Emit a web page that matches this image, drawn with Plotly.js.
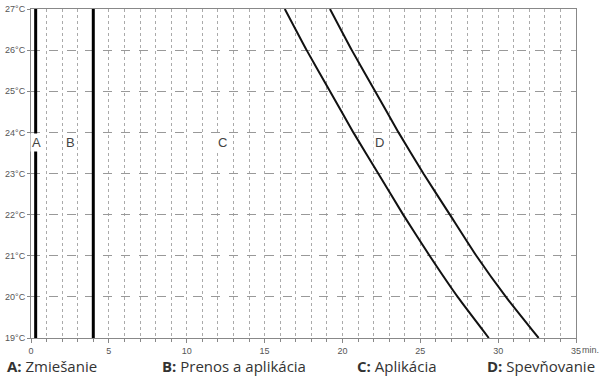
<!DOCTYPE html>
<html>
<head>
<meta charset="utf-8">
<script src="https://cdn.plot.ly/plotly-3.0.1.min.js"></script>
<style>
  html, body { margin: 0; padding: 0; background: #fff; }
  #plot { width: 602px; height: 382px; }
</style>
</head>
<body>
<div id="plot"></div>
<script>
// Temperatures (°C) and the minutes where the two curves cross them
const temps = [27, 26, 25, 24, 23, 22, 21, 20, 19];
const curveEarly = [16.3, 17.7, 19.2, 20.7, 22.3, 23.9, 25.6, 27.4, 29.4];
const curveLate = [19.2, 20.6, 22.1, 23.6, 25.2, 26.9, 28.6, 30.5, 32.6];

// Phase boundaries (vertical lines)
const phaseMarks = [0.3, 4];

// Phase letters inside the plot
const phaseLetters = ['A', 'B', 'C', 'D'];
const phaseLetterX = [0.37, 2.55, 12.3, 22.4];
const phaseLetterY = 23.75;

// Legend under the chart
const legendKeys = ['A:', 'B:', 'C:', 'D:'];
const legendNames = ['Zmiešanie', 'Prenos a aplikácia', 'Aplikácia', 'Spevňovanie'];
const legendPx = [5, 160, 355, 485];

const xTicks = [0, 5, 10, 15, 20, 25, 30, 35];
const yTicks = [19, 20, 21, 22, 23, 24, 25, 26, 27];

const margin = { l: 31, r: 26, t: 9, b: 44 };
const plotW = 602 - margin.l - margin.r;

const data = [];
phaseMarks.forEach(m => {
    data.push({
        type: 'scatter', mode: 'lines',
        x: [m, m], y: [19, 27],
        line: { color: '#000', width: 3 },
        hoverinfo: 'skip'
    });
});
[curveEarly, curveLate].forEach(c => {
    data.push({
        type: 'scatter', mode: 'lines',
        x: c, y: temps,
        line: { color: '#111', width: 2, shape: 'spline', smoothing: 0.4 },
        hoverinfo: 'skip'
    });
});

const annotations = [];
phaseLetters.forEach((t, i) => {
    annotations.push({
        x: phaseLetterX[i], y: phaseLetterY, xref: 'x', yref: 'y',
        text: t, showarrow: false,
        font: { family: 'Liberation Sans, Arial, sans-serif', size: 13, color: '#444' },
        bgcolor: '#fff', borderpad: 1
    });
});
annotations.push({
    x: 35, y: 19, xref: 'x', yref: 'y', text: 'min.', showarrow: false,
    xanchor: 'left', yanchor: 'top', xshift: 4, yshift: -5,
    font: { family: 'Liberation Sans, Arial, sans-serif', size: 9, color: '#555' }
});
legendKeys.forEach((k, i) => {
    annotations.push({
        x: (legendPx[i] - margin.l) / plotW, y: -0.085,
        xref: 'paper', yref: 'paper', xanchor: 'left', yanchor: 'middle',
        text: '<b>' + k + '</b> ' + legendNames[i], showarrow: false,
        font: { family: 'Open Sans, sans-serif', size: 15, color: '#333' }
    });
});

const tickFont = { family: 'Liberation Sans, Arial, sans-serif', size: 9, color: '#555' };

const layout = {
    width: 602, height: 382,
    margin: margin,
    paper_bgcolor: '#fff', plot_bgcolor: '#fff',
    showlegend: false,
    xaxis: {
        range: [0, 35], tickvals: xTicks, ticktext: xTicks.map(String),
        showgrid: true, gridcolor: '#aaa', griddash: 'dot', gridwidth: 1,
        minor: { dtick: 1, showgrid: true, gridcolor: '#aaa', griddash: 'dot', ticks: 'outside', ticklen: 3, tickcolor: '#888' },
        ticks: 'outside', ticklen: 4, tickcolor: '#888',
        showline: true, linecolor: '#888', linewidth: 1, mirror: true,
        zeroline: false, tickfont: tickFont
    },
    yaxis: {
        range: [19, 27], tickvals: yTicks, ticktext: yTicks.map(v => v + '°C'),
        showgrid: true, gridcolor: '#999', griddash: 'dash', gridwidth: 1,
        ticks: 'outside', ticklen: 3, tickcolor: '#888',
        showline: true, linecolor: '#888', linewidth: 1, mirror: true,
        zeroline: false, tickfont: tickFont
    },
    annotations: annotations
};

Plotly.newPlot('plot', data, layout, { displayModeBar: false, staticPlot: true });
</script>
</body>
</html>
